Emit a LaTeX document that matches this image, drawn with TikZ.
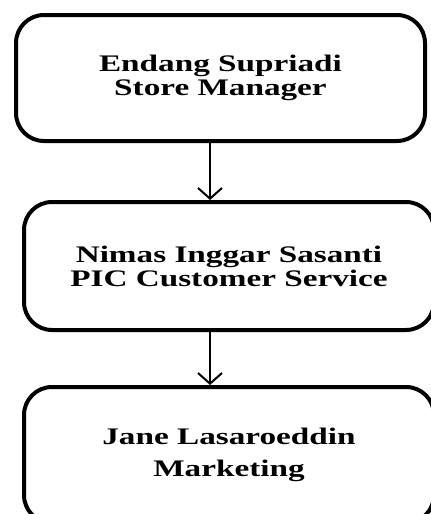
\documentclass[tikz,border=0pt]{standalone}
\usepackage{fontspec}
\newfontfamily\boxfont{Liberation Serif}[FakeStretch=1.4]
\usetikzlibrary{arrows.meta}
\begin{document}
\begin{tikzpicture}[x=0.75pt,y=-0.75pt,
  box/.style={draw=black, line width=3pt, rounded corners=21pt, align=center,
    minimum width=307.5pt, minimum height=95.5pt, inner sep=0pt,
    font=\boxfont\bfseries\fontsize{17.8pt}{18pt}\selectfont},
  arr/.style={line width=1.5pt, -{Straight Barb[length=8pt,width=18pt,line width=1.5pt]}}]
\useasboundingbox (0,0) rectangle (430,514);
\node[box, minimum width=306.75pt, minimum height=94.5pt] (b1) at (220.5,78) {Endang Supriadi\\Store Manager};
\node[box, minimum height=96pt] (b2) at (229,266) {Nimas Inggar Sasanti\\PIC Customer Service};
\node[box, minimum height=102pt, font=\boxfont\bfseries\fontsize{17.8pt}{24pt}\selectfont] (b3) at (229,455) {\raisebox{3pt}{Jane Lasaroeddin}\\\raisebox{3pt}{Marketing}};
\coordinate (ax) at (210,0);
\draw[arr] (b1.south -| ax) -- (b2.north -| ax);
\draw[arr] (b2.south -| ax) -- (b3.north -| ax);
\end{tikzpicture}
\end{document}
